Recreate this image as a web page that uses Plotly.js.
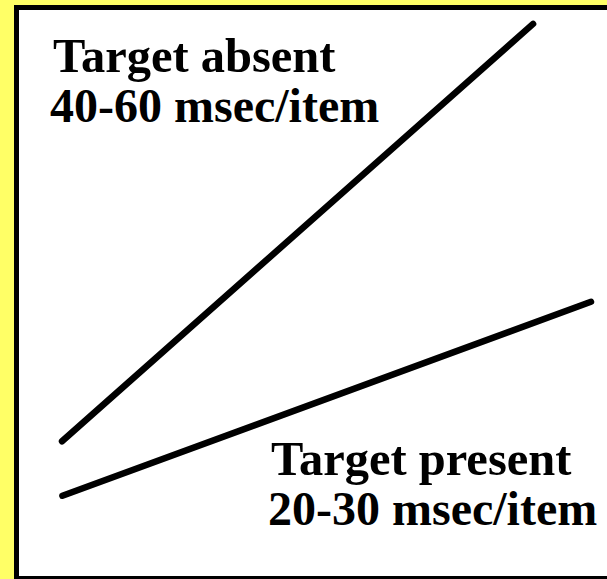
<!DOCTYPE html>
<html>
<head>
<meta charset="utf-8">
<script src="https://cdn.plot.ly/plotly-3.0.1.min.js"></script>
<style>
  html, body { margin: 0; padding: 0; overflow: hidden; background: #FFFF66; }
  #chart { width: 607px; height: 579px; }
  .js-line { stroke-linecap: round !important; }
</style>
</head>
<body>
<div id="chart"></div>
<script>
// Set size (arbitrary units) and reaction time (msec, arbitrary scale)
const setSizeAbsent = [2.43, 26.26];
const rtAbsent = [240, 967];
const setSizePresent = [2.45, 29.19];
const rtPresent = [145, 483];

const labelAbsent = ["Target absent", "40-60 msec/item"];
const labelPresent = ["Target present", "20-30 msec/item"];

const lineStyle = { color: "#000000", width: 6.5 };

const traces = [
  { x: setSizeAbsent, y: rtAbsent, mode: "lines", line: lineStyle, hoverinfo: "skip" },
  { x: setSizePresent, y: rtPresent, mode: "lines", line: lineStyle, hoverinfo: "skip" }
];

function ann(text, x, y, size) {
  return { text: "<b>" + text + "</b>", xref: "paper", yref: "paper", x: x, y: y,
           xanchor: "left", yanchor: "middle", showarrow: false, align: "left",
           font: { family: "Liberation Serif, 'Times New Roman', serif", size: size, color: "#000000" },
           borderwidth: 0, borderpad: 0 };
}

const W = 593, H = 574; // plot area size in px
const frame = { color: "#000000", width: 5 };

const layout = {
  width: 607, height: 579,
  margin: { l: 14, r: 0, t: 5, b: 0 },
  paper_bgcolor: "#FFFF66",
  plot_bgcolor: "#FFFFFF",
  showlegend: false,
  xaxis: { range: [0, 30], visible: false, fixedrange: true },
  yaxis: { range: [0, 1000], visible: false, fixedrange: true },
  shapes: [
    { type: "line", xref: "paper", yref: "paper", x0: 2.5 / W, x1: 2.5 / W, y0: -0.02, y1: 1, line: frame },
    { type: "line", xref: "paper", yref: "paper", x0: 0, x1: 1.02, y0: 1 - 2.5 / H, y1: 1 - 2.5 / H, line: frame },
    { type: "line", xref: "paper", yref: "paper", x0: 0, x1: 1.02, y0: 0.5 / H, y1: 0.5 / H, line: frame }
  ],
  annotations: [
    ann(labelAbsent[0], 0.0660, 0.9122, 48.5),
    ann(labelAbsent[1], 0.0615, 0.8251, 48),
    ann(labelPresent[0], 0.4340, 0.2096, 48.5),
    ann(labelPresent[1], 0.4280, 0.1225, 48)
  ]
};

Plotly.newPlot("chart", traces, layout, { staticPlot: true, displayModeBar: false });
</script>
</body>
</html>
